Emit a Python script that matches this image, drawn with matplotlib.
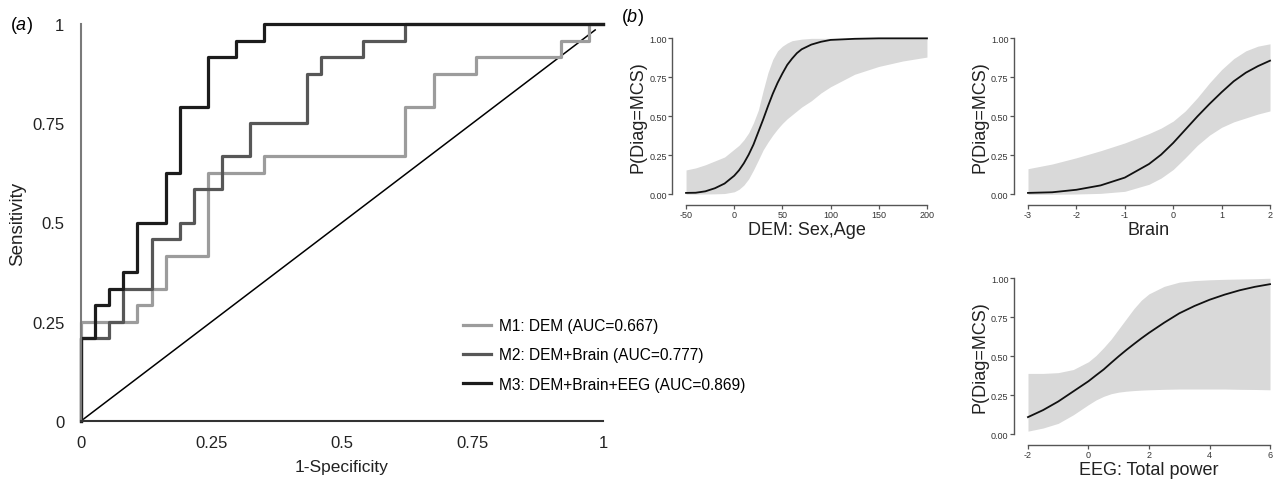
import numpy as np
import matplotlib
matplotlib.use('Agg')
import matplotlib.pyplot as plt

plt.rcParams['font.family'] = ['Liberation Sans', 'DejaVu Sans']
plt.rcParams['mathtext.fontset'] = 'custom'
plt.rcParams['mathtext.it'] = 'Liberation Sans:italic'
plt.rcParams['mathtext.rm'] = 'Liberation Sans'

# ---- panel (a): ROC steps, counts of negatives (37) / positives (24)
n_neg = 37
n_pos = 24
m1_fp = [0, 0, 4, 5, 6, 9, 13, 23, 25, 28, 34, 36, 37]
m1_tp = [0, 6, 7, 8, 10, 15, 16, 19, 21, 22, 23, 24, 24]
m2_fp = [0, 0, 2, 3, 5, 7, 8, 10, 12, 16, 17, 20, 23, 37]
m2_tp = [0, 5, 6, 8, 11, 12, 14, 16, 18, 21, 22, 23, 24, 24]
m3_fp = [0, 0, 1, 2, 3, 4, 6, 7, 9, 11, 13, 37]
m3_tp = [0, 5, 7, 8, 9, 12, 15, 19, 22, 23, 24, 24]
chance = [0, 0.985]
roc_labels = ['M1: DEM (AUC=0.667)', 'M2: DEM+Brain (AUC=0.777)',
              'M3: DEM+Brain+EEG (AUC=0.869)']
roc_ticks = [0, 0.25, 0.5, 0.75, 1]
roc_ticklabels = ['0', '0.25', '0.5', '0.75', '1']

# ---- panel (b): predicted probability with confidence band
dem_x = [-50, -40, -30, -20, -10, 0, 5, 10, 15, 20, 25, 30, 35, 40, 45, 50, 55, 60, 65, 70, 80, 90, 100, 125, 150, 175, 200]
dem_fit = [0.01, 0.011, 0.02, 0.04, 0.07, 0.12, 0.155, 0.2, 0.255, 0.32, 0.40, 0.48, 0.565, 0.645, 0.715, 0.775, 0.83, 0.87, 0.905, 0.93, 0.96, 0.978, 0.99, 0.997, 1.0, 1.0, 1.0]
dem_hi = [0.157, 0.17, 0.19, 0.215, 0.24, 0.29, 0.315, 0.35, 0.395, 0.46, 0.54, 0.665, 0.78, 0.865, 0.92, 0.95, 0.97, 0.985, 0.99, 0.995, 1.0, 1.0, 1.0, 1.0, 1.0, 1.0, 1.0]
dem_lo = [0.002, 0.002, 0.003, 0.004, 0.006, 0.017, 0.033, 0.06, 0.1, 0.157, 0.22, 0.285, 0.335, 0.38, 0.42, 0.455, 0.485, 0.51, 0.535, 0.56, 0.6, 0.65, 0.69, 0.77, 0.82, 0.855, 0.88]

brain_x = [-3, -2.5, -2, -1.5, -1, -0.5, -0.25, 0, 0.25, 0.5, 0.75, 1, 1.25, 1.5, 1.75, 2]
brain_fit = [0.01, 0.014, 0.03, 0.058, 0.108, 0.195, 0.255, 0.33, 0.415, 0.5, 0.58, 0.655, 0.725, 0.78, 0.822, 0.857]
brain_hi = [0.165, 0.195, 0.235, 0.28, 0.33, 0.39, 0.425, 0.47, 0.535, 0.62, 0.715, 0.8, 0.87, 0.92, 0.95, 0.965]
brain_lo = [0.0, 0.001, 0.003, 0.007, 0.02, 0.065, 0.105, 0.16, 0.235, 0.315, 0.38, 0.43, 0.465, 0.49, 0.515, 0.535]

eeg_x = [-2, -1.5, -1, -0.5, 0, 0.25, 0.5, 0.75, 1, 1.25, 1.5, 1.75, 2, 2.5, 3, 3.5, 4, 4.5, 5, 5.5, 6]
eeg_fit = [0.11, 0.155, 0.21, 0.275, 0.34, 0.378, 0.415, 0.458, 0.5, 0.54, 0.578, 0.615, 0.65, 0.715, 0.775, 0.822, 0.862, 0.895, 0.923, 0.945, 0.962]
eeg_hi = [0.39, 0.39, 0.395, 0.415, 0.465, 0.505, 0.555, 0.61, 0.675, 0.74, 0.805, 0.86, 0.9, 0.948, 0.975, 0.985, 0.99, 0.993, 0.995, 0.997, 1.0]
eeg_lo = [0.02, 0.04, 0.07, 0.125, 0.19, 0.22, 0.243, 0.26, 0.27, 0.276, 0.28, 0.283, 0.285, 0.288, 0.29, 0.29, 0.29, 0.29, 0.288, 0.287, 0.285]

prob_ticks = [0, 0.25, 0.5, 0.75, 1]
prob_ticklabels = ['0.00', '0.25', '0.50', '0.75', '1.00']

W, H = 1276, 481
fig = plt.figure(figsize=(W / 100, H / 100), dpi=100)


def px_axes(x0, x1, y_top, y_bot):
    return fig.add_axes([x0 / W, 1 - y_bot / H, (x1 - x0) / W, (y_bot - y_top) / H])


# ---------------- (a) ROC
ax = px_axes(81, 603, 25, 422)
ax.plot(chance, chance, color='black', lw=1.1, clip_on=False)
ax.step(np.array(m1_fp) / n_neg, np.array(m1_tp) / n_pos, where='post',
        color='#9c9c9c', lw=2.3, label=roc_labels[0], clip_on=False)
ax.step(np.array(m2_fp) / n_neg, np.array(m2_tp) / n_pos, where='post',
        color='#575757', lw=2.3, label=roc_labels[1], clip_on=False)
ax.step(np.array(m3_fp) / n_neg, np.array(m3_tp) / n_pos, where='post',
        color='#1c1c1c', lw=2.3, label=roc_labels[2], clip_on=False)
ax.set_xlim(0, 1)
ax.set_ylim(0, 1)
ax.set_xticks(roc_ticks)
ax.set_xticklabels(roc_ticklabels)
ax.set_yticks(roc_ticks)
ax.set_yticklabels(roc_ticklabels)
ax.tick_params(length=0, labelsize=12, colors='#222222')
ax.tick_params(axis='y', pad=12)
ax.tick_params(axis='x', pad=10)
for s in ['top', 'right']:
    ax.spines[s].set_visible(False)
ax.spines['left'].set_color('#7a7a7a')
ax.spines['left'].set_linewidth(1.5)
ax.spines['bottom'].set_color('#333333')
ax.spines['bottom'].set_linewidth(1.5)
ax.set_xlabel('1-Specificity', fontsize=12.5, color='#222222')
ax.xaxis.set_label_coords(0.5, -0.095)
ax.set_ylabel('Sensitivity', fontsize=13.5, color='#222222')
ax.yaxis.set_label_coords(-0.105, 0.5)
ax.legend(loc='upper left', bbox_to_anchor=(0.732, 0.259), frameon=False,
          fontsize=11.2, handlelength=1.8, handletextpad=0.5,
          labelspacing=0.92, borderpad=0, borderaxespad=0)
fig.text(10 / W, 1 - 25 / H, r'($\it{a}$)', fontsize=13, va='center', ha='left')
fig.text(621 / W, 1 - 17 / H, r'($\it{b}$)', fontsize=13, va='center', ha='left')


# ---------------- (b) effect plots
def effect_panel(axb, xs, fit, lo, hi, xticks, xlabel):
    axb.fill_between(xs, lo, hi, color='#d9d9d9', lw=0)
    axb.plot(xs, fit, color='#111111', lw=1.3)
    span = xticks[-1] - xticks[0]
    axb.set_xlim(xticks[0] - 0.04 * span, xticks[-1] + 0.04 * span)
    axb.set_ylim(-0.04, 1.04)
    axb.set_xticks(xticks)
    axb.set_xticklabels([str(t) for t in xticks])
    axb.set_yticks(prob_ticks)
    axb.set_yticklabels(prob_ticklabels)
    for s in ['top', 'right']:
        axb.spines[s].set_visible(False)
    for s in ['left', 'bottom']:
        axb.spines[s].set_color('#555555')
        axb.spines[s].set_linewidth(1.0)
        axb.spines[s].set_position(('outward', 3))
    axb.spines['left'].set_bounds(0, 1)
    axb.spines['bottom'].set_bounds(xticks[0], xticks[-1])
    axb.tick_params(direction='out', length=3, width=0.9, color='#555555',
                    labelsize=6.5, labelcolor='#333333', pad=1)
    axb.set_xlabel(xlabel, fontsize=13, color='#222222')
    axb.xaxis.set_label_coords(0.5, -0.12)
    axb.set_ylabel('P(Diag=MCS)', fontsize=13, color='#222222')
    axb.yaxis.set_label_coords(-0.115, 0.5)


ax_dem = px_axes(676.4, 936.6, 33.1, 201.7)
effect_panel(ax_dem, dem_x, dem_fit, dem_lo, dem_hi, [-50, 0, 50, 100, 150, 200], 'DEM: Sex,Age')

ax_brain = px_axes(1018.3, 1279.7, 33.1, 201.7)
effect_panel(ax_brain, brain_x, brain_fit, brain_lo, brain_hi, [-3, -2, -1, 0, 1, 2], 'Brain')

ax_eeg = px_axes(1018.3, 1279.7, 273, 441.5)
effect_panel(ax_eeg, eeg_x, eeg_fit, eeg_lo, eeg_hi, [-2, 0, 2, 4, 6], 'EEG: Total power')

fig.savefig('out.png', dpi=100)
